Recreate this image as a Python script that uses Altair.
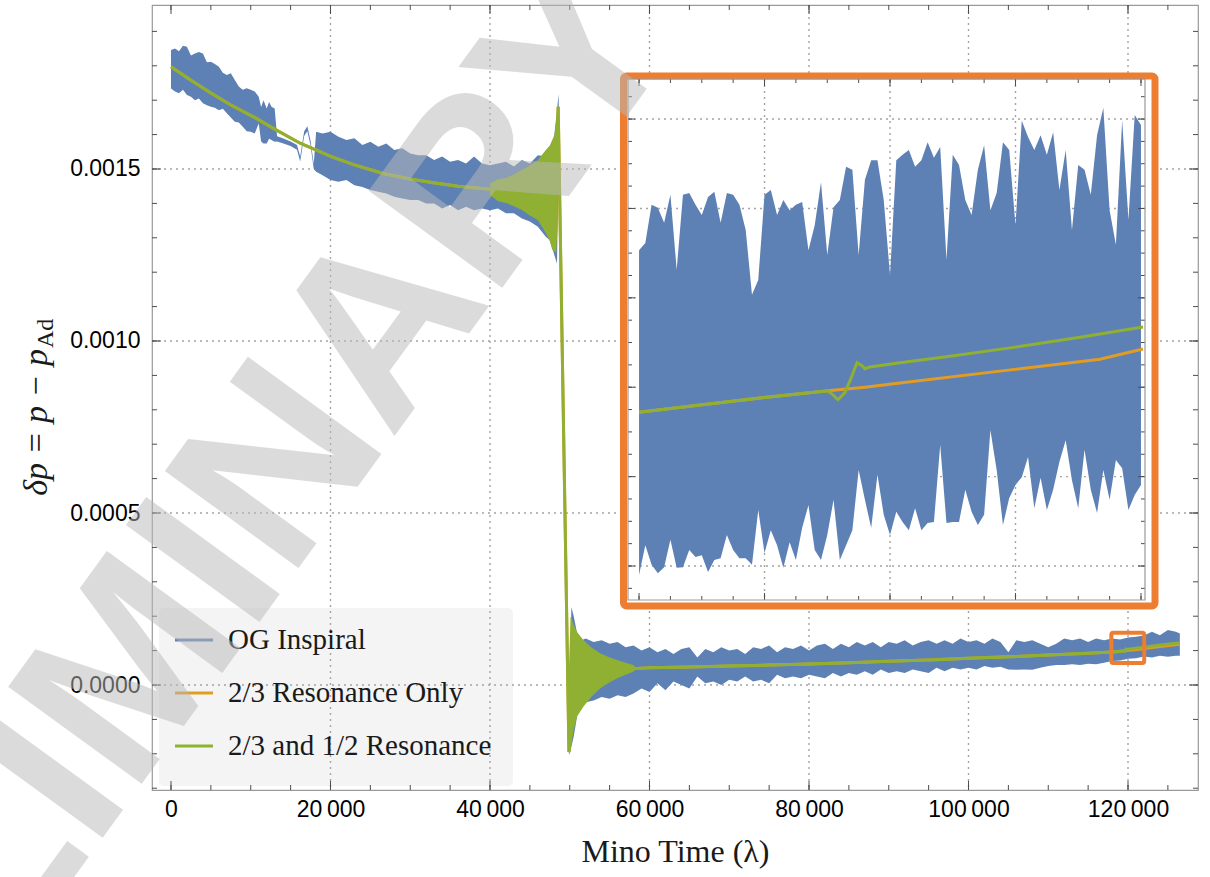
import altair as alt
import pandas as pd

BLUE = "#5e81b5"
ORANGE = "#e19c24"
GREEN = "#8fb032"
HILITE = "#ed7d31"
GRID = "#a3a3a3"
TICK = "#4d4d4d"

# plot-area size and its placement on the page
W, H = 1046, 785
PAD = {"left": 152, "top": 5, "right": 12, "bottom": 87}

# main axes window (λ, δp)
X_DOM = [-2382, 128777]
Y_DOM = [-0.0003052, 0.0019767]

# zoomed inset: its data window and the pixel box it occupies in the plot area
IX_DOM = [117912, 122032]
IY_DOM = [0.0000642953, 0.0001517200]
IX_RNG = [476, 993]
IY_RNG = [595, 74]

LAM = 1000.0  # times in the tables below are in units of 1000 λ
DP = 1e-5     # δp values in the tables below are in units of 1e-5

# ---------------- OG inspiral: envelope of the fast oscillation ----------------
# (λ/1000, upper, lower)
og_band_early = [
    (0.0, 184.6, 173.4), (0.5, 185.0, 172.5), (1.0, 184.2, 172.0), (1.5, 185.8, 173.0),
    (2.0, 185.5, 171.5), (2.5, 183.0, 171.0), (3.0, 183.6, 170.0), (3.5, 184.0, 170.5),
    (4.0, 183.6, 169.1), (4.5, 181.0, 168.5), (5.0, 181.2, 168.1), (5.5, 180.5, 167.8),
    (6.0, 179.7, 167.1), (6.5, 178.0, 167.5), (7.0, 177.3, 166.2), (7.5, 177.8, 165.0),
    (8.0, 175.9, 163.7), (8.5, 174.0, 163.5), (9.0, 173.0, 162.3), (9.5, 173.5, 161.0),
    (10.0, 173.0, 160.8), (10.5, 172.5, 160.3), (11.0, 171.0, 163.2), (11.3, 168.0, 158.0),
    (11.6, 170.0, 157.4), (12.0, 167.6, 157.4), (12.3, 169.5, 158.8), (12.6, 168.1, 158.4),
    (13.0, 167.6, 157.9),
    (13.3, 159.5, 158.0), (14.0, 158.9, 157.5), (15.0, 158.0, 156.7), (15.8, 157.0, 155.6),
    (16.2, 153.6, 152.2), (16.7, 161.0, 159.6), (17.1, 162.4, 161.0), (17.5, 158.2, 156.8),
    (17.9, 151.5, 150.0),
    (18.2, 160.8, 149.2), (19.0, 160.3, 148.2), (20.0, 160.8, 146.8), (21.0, 159.4, 146.3),
    (22.0, 158.4, 146.8), (23.0, 158.9, 145.3), (24.0, 157.0, 144.8), (25.0, 157.9, 143.9),
    (26.0, 156.5, 143.4), (27.0, 157.4, 142.9), (28.0, 155.5, 141.9), (29.0, 156.0, 141.4),
    (30.0, 154.5, 141.0), (31.0, 154.0, 141.0), (32.0, 154.0, 140.0), (33.0, 152.6, 140.0),
    (34.0, 153.6, 138.5), (35.0, 152.1, 139.5), (36.0, 152.6, 138.0), (37.0, 151.6, 139.0),
    (38.0, 153.6, 138.0), (39.0, 151.6, 138.5), (40.0, 151.1, 138.0), (41.0, 151.6, 138.5),
    (42.0, 152.1, 137.1), (43.0, 150.7, 137.1), (44.0, 152.6, 135.6), (45.0, 151.6, 134.7),
    (46.0, 154.0, 133.2), (47.0, 153.6, 130.3), (47.5, 156.5, 129.3), (48.0, 158.4, 125.5),
    (48.4, 167.1, 122.5), (48.6, 171.8, 150.0),
]
og_band_late = [
    (49.9, -15.0, -20.5), (50.2, 22.7, -18.0), (50.5, 20.0, -15.0), (51.0, 14.0, -8.0),
    (51.5, 13.0, -5.5), (52.0, 13.5, -5.0), (53.0, 12.5, -4.5), (54.0, 13.0, -3.5),
    (55.0, 12.0, -4.0), (56.0, 12.5, -3.0), (57.0, 11.0, -3.5), (58.0, 11.5, -2.5),
    (59.0, 10.0, -1.0), (60.0, 11.0, -2.0), (61.0, 9.5, 0.5), (62.0, 10.5, -1.5),
    (63.0, 9.0, 1.0), (64.0, 10.5, 0.0), (65.0, 11.0, -1.0), (66.0, 8.0, 2.5),
    (67.0, 10.5, 0.5), (68.0, 9.5, 1.0), (69.0, 11.0, 0.0), (70.0, 10.0, 1.5),
    (71.0, 10.5, 1.0), (72.0, 9.0, 2.5), (73.0, 11.0, 1.0), (74.0, 10.5, 1.5),
    (75.0, 11.5, 0.5), (76.0, 9.5, 3.0), (77.0, 11.0, 2.0), (78.0, 10.5, 2.5),
    (79.0, 11.5, 2.0), (80.0, 10.0, 3.0), (81.0, 11.5, 2.5), (82.0, 12.0, 2.0),
    (83.0, 10.5, 3.5), (84.0, 12.0, 2.5), (85.0, 11.0, 3.5), (86.0, 12.5, 3.0),
    (87.0, 11.5, 4.0), (88.0, 12.5, 3.0), (89.0, 11.0, 4.5), (90.0, 12.5, 3.5),
    (91.0, 12.0, 4.0), (92.0, 13.0, 3.5), (93.0, 11.5, 4.5), (94.0, 12.5, 4.0),
    (95.0, 13.0, 3.5), (96.0, 12.0, 5.0), (97.0, 13.0, 4.0), (98.0, 12.0, 5.0),
    (99.0, 13.5, 4.5), (100.0, 12.5, 5.0), (101.0, 13.0, 4.5), (102.0, 12.0, 5.5),
    (103.0, 13.5, 5.0), (104.0, 12.5, 5.3), (105.0, 9.5, 4.5), (106.0, 13.0, 4.4),
    (107.0, 12.5, 4.5), (108.0, 13.0, 4.4), (109.0, 12.0, 5.0), (110.0, 11.0, 5.5),
    (111.0, 12.0, 5.8), (112.0, 13.5, 5.8), (113.0, 13.0, 6.0), (114.0, 13.5, 5.8),
    (115.0, 12.5, 6.2), (116.0, 13.5, 6.0), (117.0, 13.0, 6.5), (118.0, 13.5, 7.0),
    (119.0, 13.2, 7.1), (120.0, 13.8, 7.6), (121.0, 14.0, 7.8), (122.0, 14.4, 8.3),
    (123.0, 15.5, 8.0), (124.0, 14.5, 8.5), (125.0, 16.0, 8.2), (126.0, 15.5, 8.5),
    (126.5, 15.0, 8.5),
]

# ---------------- 2/3 and 1/2 resonance model ----------------
# mean curve (λ/1000, δp)
green_curve = [
    (0.0, 179.7), (2.5, 175.8), (5.0, 172.1), (7.5, 168.6), (10.7, 164.7), (13.0, 161.6),
    (16.2, 157.5), (20.1, 153.6), (23.0, 151.2), (26.6, 148.7), (30.0, 147.1), (32.9, 146.0),
    (36.0, 145.0), (40.0, 144.1), (44.0, 143.9), (47.0, 143.5), (48.0, 142.5), (48.3, 146.0),
    (48.55, 168.1), (49.9, -19.5), (50.5, 0.0), (51.7, 3.4), (53.8, 4.1), (55.9, 4.6),
    (58.4, 4.8), (60.0, 5.0), (65.0, 5.2), (70.0, 5.5), (75.0, 5.8), (80.0, 6.1),
    (85.0, 6.5), (90.0, 6.9), (95.0, 7.3), (100.0, 7.8), (105.0, 8.2), (110.0, 8.7),
    (115.0, 9.2), (118.0, 9.58), (118.486, 9.70), (118.964, 9.82), (119.282, 9.89),
    (119.506, 9.94), (119.546, 9.87), (119.585, 9.79), (119.641, 9.91), (119.689, 10.15),
    (119.737, 10.41), (119.777, 10.36), (119.8, 10.31), (119.84, 10.34), (120.079, 10.41),
    (120.478, 10.52), (120.956, 10.66), (121.514, 10.84), (122.016, 11.01), (124.0, 11.6),
    (126.5, 12.3),
]
# envelopes of the resonant ringing (λ/1000, upper, lower)
res_band_a = [
    (40.0, 145.8, 142.5), (41.0, 147.0, 140.6), (42.0, 147.4, 140.1), (43.0, 148.5, 139.2),
    (44.0, 149.7, 138.1), (45.0, 151.0, 136.5), (46.0, 152.6, 135.2), (47.0, 155.5, 131.4),
    (47.5, 156.8, 129.0), (47.8, 158.4, 126.5), (48.1, 160.0, 126.0), (48.3, 164.0, 125.6),
    (48.5, 168.1, 135.0), (48.55, 168.1, 160.0),
]
res_band_b = [
    (49.9, 5.0, -19.5), (50.1, 19.9, -19.0), (50.5, 17.5, -13.0), (50.9, 15.5, -9.2),
    (51.7, 13.1, -6.3), (52.7, 11.0, -3.5), (53.8, 9.2, -1.0), (54.8, 8.2, 0.5),
    (55.9, 7.3, 1.9), (57.0, 6.5, 3.0), (58.0, 5.8, 3.9), (58.4, 4.8, 4.8),
]

# ---------------- 2/3 resonance only: departs after the 1/2 crossing ----------------
orange_split = 119.506
orange_tail = [
    (119.8, 10.00), (120.079, 10.07), (120.876, 10.27), (121.673, 10.47),
    (122.016, 10.64), (124.0, 11.2), (126.5, 11.85),
]

# ---------------- inset: OG inspiral envelope at finer sampling ----------------
inset_t = list(range(118000, 122001, 50))
inset_hi = [
    12.30, 12.42, 13.06, 13.01, 12.76, 13.23, 11.97, 13.23, 13.26, 13.06,
    12.89, 13.19, 13.28, 12.76, 13.26, 13.23, 13.06, 12.64, 11.55, 11.80,
    13.23, 13.31, 12.89, 13.14, 12.97, 13.06, 13.11, 12.30, 12.72, 13.44,
    12.22, 13.02, 13.14, 13.70, 13.65, 12.22, 13.48, 13.81, 13.81, 13.14,
    11.88, 13.81, 13.90, 13.98, 13.70, 13.81, 14.11, 13.85, 14.03, 12.14,
    13.90, 13.73, 13.14, 12.89, 13.65, 14.06, 12.97, 13.26, 14.11, 13.98,
    12.72, 14.47, 14.20, 13.98, 14.23, 13.90, 14.28, 13.31, 13.98, 12.64,
    13.73, 13.65, 13.23, 14.23, 14.69, 12.97, 12.39, 14.48, 12.81, 14.57,
    14.40,
]
inset_lo = [
    6.85, 7.35, 7.02, 6.88, 6.98, 7.44, 6.97, 6.98, 7.27, 7.15,
    7.18, 6.90, 7.10, 7.13, 7.52, 7.27, 7.13, 7.13, 7.02, 7.94,
    7.22, 7.60, 7.35, 6.97, 7.40, 7.10, 7.64, 8.02, 7.27, 7.10,
    7.52, 8.11, 7.10, 7.35, 7.60, 8.61, 8.11, 7.64, 8.53, 7.86,
    7.52, 7.91, 7.74, 7.60, 7.97, 7.60, 7.72, 7.74, 9.03, 7.72,
    7.74, 7.74, 8.28, 7.91, 7.69, 7.86, 9.28, 8.61, 7.69, 8.14,
    8.36, 8.49, 8.83, 7.97, 8.48, 7.94, 8.28, 8.75, 9.11, 8.44,
    7.97, 8.95, 8.28, 7.89, 8.61, 8.11, 8.78, 8.64, 7.94, 8.19,
    8.36,
]

legend_labels = ["OG Inspiral", "2/3 Resonance Only", "2/3 and 1/2 Resonance"]
legend_colors = [BLUE, ORANGE, GREEN]

x_label_values = [0, 20000, 40000, 60000, 80000, 100000, 120000]
y_label_values = [0.0, 0.0005, 0.0010, 0.0015]

# ---------------- tables ----------------
og_df = pd.DataFrame(
    [(t * LAM, hi * DP, lo * DP) for t, hi, lo in og_band_early + og_band_late],
    columns=["t", "hi", "lo"],
)
res_df = pd.DataFrame(
    [(t * LAM, hi * DP, lo * DP, "a") for t, hi, lo in res_band_a]
    + [(t * LAM, hi * DP, lo * DP, "b") for t, hi, lo in res_band_b],
    columns=["t", "hi", "lo", "seg"],
)
green_df = pd.DataFrame([(t * LAM, v * DP) for t, v in green_curve], columns=["t", "v"])
orange_pts = [p for p in green_curve if p[0] <= orange_split] + orange_tail
orange_df = pd.DataFrame([(t * LAM, v * DP) for t, v in orange_pts], columns=["t", "v"])
inset_df = pd.DataFrame({
    "t": inset_t,
    "hi": [v * DP for v in inset_hi],
    "lo": [v * DP for v in inset_lo],
})


def in_window(d):
    return d[(d.t >= 117999) & (d.t <= 122020)]


green_in = in_window(green_df)
orange_in = in_window(orange_df)
one = pd.DataFrame({"k": [0]})

xs = alt.Scale(domain=X_DOM, nice=False, zero=False)
ys = alt.Scale(domain=Y_DOM, nice=False, zero=False)
xi = alt.Scale(domain=IX_DOM, range=IX_RNG, nice=False, zero=False)
yi = alt.Scale(domain=IY_DOM, range=IY_RNG, nice=False, zero=False)


def vrules(vals, xscale, y0, y1, **mk):
    return alt.Chart(pd.DataFrame({"v": vals})).mark_rule(**mk).encode(
        x=alt.X("v:Q", scale=xscale, axis=None), y=alt.value(y0), y2=alt.value(y1))


def hrules(vals, yscale, x0, x1, **mk):
    return alt.Chart(pd.DataFrame({"v": vals})).mark_rule(**mk).encode(
        y=alt.Y("v:Q", scale=yscale, axis=None), x=alt.value(x0), x2=alt.value(x1))


def frame_ticks(xmaj, xmin, ymaj, ymin, xscale, yscale, x0, x1, y0, y1, lmaj, lmin):
    """Inward ticks on all four sides of a frame spanning x0..x1, y0(top)..y1(bottom)."""
    out = []
    for vals, ln in ((xmin, lmin), (xmaj, lmaj)):
        out.append(vrules(vals, xscale, y1, y1 - ln, color=TICK, strokeWidth=1))
        out.append(vrules(vals, xscale, y0, y0 + ln, color=TICK, strokeWidth=1))
    for vals, ln in ((ymin, lmin), (ymaj, lmaj)):
        out.append(hrules(vals, yscale, x0, x0 + ln, color=TICK, strokeWidth=1))
        out.append(hrules(vals, yscale, x1, x1 - ln, color=TICK, strokeWidth=1))
    return out


# ---------------- main panel ----------------
x_axis = alt.Axis(
    values=x_label_values,
    labelExpr="datum.value == 0 ? '0' : replace(format(datum.value, ','), ',', '\u2009')",
    ticks=False, domain=False, grid=False, labelFlush=False, labelOverlap=False,
    labelFont="Liberation Sans", labelFontSize=23, labelColor="#000000", labelPadding=8,
    titleFont="Liberation Serif", titleFontSize=32, titleFontWeight="normal",
    titleColor="#1a1a1a", titlePadding=15,
)
y_axis = alt.Axis(
    values=y_label_values, format=".4f",
    ticks=False, domain=False, grid=False, labelFlush=False, labelOverlap=False,
    labelFont="Liberation Sans", labelFontSize=23, labelColor="#000000", labelPadding=12,
)

legend_bg = alt.Chart(one).mark_rect(fill="#f4f4f4", cornerRadius=5).encode(
    x=alt.value(7), x2=alt.value(361), y=alt.value(603), y2=alt.value(781))

grid_v = alt.Chart(pd.DataFrame({"g": x_label_values[1:]})).mark_rule(
    color=GRID, strokeWidth=1.4, strokeDash=[2, 4]).encode(x=alt.X("g:Q", scale=xs, axis=None))
grid_h = alt.Chart(pd.DataFrame({"g": y_label_values})).mark_rule(
    color=GRID, strokeWidth=1.4, strokeDash=[2, 4]).encode(y=alt.Y("g:Q", scale=ys, axis=None))

og_layer = alt.Chart(og_df).mark_area(color=BLUE).encode(
    x=alt.X("t:Q", scale=xs, axis=x_axis, title="Mino Time (λ)"),
    y=alt.Y("hi:Q", scale=ys, axis=y_axis, title=None),
    y2="lo:Q",
)
orange_layer = alt.Chart(orange_df).mark_line(color=ORANGE, strokeWidth=3).encode(
    x=alt.X("t:Q", scale=xs, axis=None), y=alt.Y("v:Q", scale=ys, axis=None))
green_layer = alt.Chart(green_df).mark_line(color=GREEN, strokeWidth=3).encode(
    x=alt.X("t:Q", scale=xs, axis=None), y=alt.Y("v:Q", scale=ys, axis=None))
res_layer = alt.Chart(res_df).mark_area(color=GREEN).encode(
    x=alt.X("t:Q", scale=xs, axis=None), y=alt.Y("hi:Q", scale=ys, axis=None),
    y2="lo:Q", detail="seg:N")

zoom_box = alt.Chart(one).mark_rect(
    fillOpacity=0, stroke=HILITE, strokeWidth=4, cornerRadius=2).encode(
    x=alt.datum(IX_DOM[0], scale=xs, axis=None), x2=alt.datum(IX_DOM[1]),
    y=alt.datum(IY_DOM[0], scale=ys, axis=None), y2=alt.datum(IY_DOM[1]))

main_ticks = frame_ticks(
    [20000 * i for i in range(7)], [5000 * i for i in range(26)],
    y_label_values, [round(-0.0003 + 0.0001 * i, 4) for i in range(23)],
    xs, ys, 0, W, 0, H, 9, 5)

legend_layers = []
for i, (lab, col) in enumerate(zip(legend_labels, legend_colors)):
    yy = 635 + 53 * i
    legend_layers.append(alt.Chart(one).mark_rule(color=col, strokeWidth=3).encode(
        x=alt.value(23), x2=alt.value(61), y=alt.value(yy)))
    legend_layers.append(alt.Chart(one).mark_text(
        text=lab, font="Liberation Serif", fontSize=29, color="#1a1a1a",
        align="left", baseline="middle").encode(x=alt.value(76), y=alt.value(yy)))

ytitle_main = alt.Chart(one).mark_text(
    text="δp = p − p", font="Liberation Serif", fontStyle="italic", fontSize=34,
    color="#1a1a1a", angle=270, align="right", baseline="middle").encode(
    x=alt.value(-115), y=alt.value(344))
ytitle_sub = alt.Chart(one).mark_text(
    text="Ad", font="Liberation Serif", fontSize=24, color="#1a1a1a",
    angle=270, align="left", baseline="middle").encode(
    x=alt.value(-106), y=alt.value(343))

main_layers = [
    legend_bg, grid_v, grid_h, og_layer, orange_layer, green_layer, res_layer,
    zoom_box, *main_ticks, *legend_layers, ytitle_main, ytitle_sub,
]

# ---------------- inset panel ----------------
inset_frame = alt.Chart(one).mark_rect(
    fill="white", stroke=HILITE, strokeWidth=7, cornerRadius=3).encode(
    x=alt.value(IX_RNG[0] - 4.5), x2=alt.value(IX_RNG[1] + 10),
    y=alt.value(IY_RNG[1] - 3), y2=alt.value(IY_RNG[0] + 6))

iy_major = [round(0.00007 + 0.000015 * k, 9) for k in range(6)]
iy_minor = [round(0.00006625 + 0.00000375 * k, 9) for k in range(23)]
ix_major = [118000 + 1000 * k for k in range(5)]
ix_minor = [118000 + 250 * k for k in range(17)]

igrid_v = vrules([119000, 120000, 121000], xi, IY_RNG[1], IY_RNG[0],
                 color=GRID, strokeWidth=1.4, strokeDash=[2, 4])
igrid_h = hrules(iy_major, yi, IX_RNG[0], IX_RNG[1],
                 color=GRID, strokeWidth=1.4, strokeDash=[2, 4])

inset_og = alt.Chart(inset_df).mark_area(color=BLUE).encode(
    x=alt.X("t:Q", scale=xi, axis=None), y=alt.Y("hi:Q", scale=yi, axis=None), y2="lo:Q")
inset_orange = alt.Chart(orange_in).mark_line(color=ORANGE, strokeWidth=3).encode(
    x=alt.X("t:Q", scale=xi, axis=None), y=alt.Y("v:Q", scale=yi, axis=None))
inset_green = alt.Chart(green_in).mark_line(color=GREEN, strokeWidth=3).encode(
    x=alt.X("t:Q", scale=xi, axis=None), y=alt.Y("v:Q", scale=yi, axis=None))

inset_ticks = frame_ticks(ix_major, ix_minor, iy_major, iy_minor, xi, yi,
                          IX_RNG[0], IX_RNG[1], IY_RNG[1], IY_RNG[0], 7, 4)
inset_border = alt.Chart(one).mark_rect(
    fillOpacity=0, stroke="#9a9a9a", strokeWidth=1.2).encode(
    x=alt.value(IX_RNG[0]), x2=alt.value(IX_RNG[1]),
    y=alt.value(IY_RNG[1]), y2=alt.value(IY_RNG[0]))

inset_layers = [
    inset_frame, igrid_v, igrid_h, inset_og, inset_orange, inset_green,
    *inset_ticks, inset_border,
]

# ---------------- watermark ----------------
watermark = alt.Chart(one).mark_text(
    text="PRELIMINARY", font="Liberation Sans", fontWeight="bold", fontSize=240,
    color="#b9b9b9", opacity=0.5, angle=306, align="center", baseline="middle").encode(
    x=alt.value(-10), y=alt.value(656))

# every layer keeps its own scales: the main panel layers share identical fixed
# domains, the inset layers map their window into the inset box
chart = alt.layer(*main_layers, *inset_layers, watermark).resolve_scale(
    x="independent", y="independent"
).properties(
    width=W, height=H, padding=PAD,
    autosize=alt.AutoSizeParams(type="none"),
    background="white",
).configure_view(stroke="#9a9a9a", strokeWidth=1.2)

chart.save("out.html", embed_options={"renderer": "svg", "actions": False})
